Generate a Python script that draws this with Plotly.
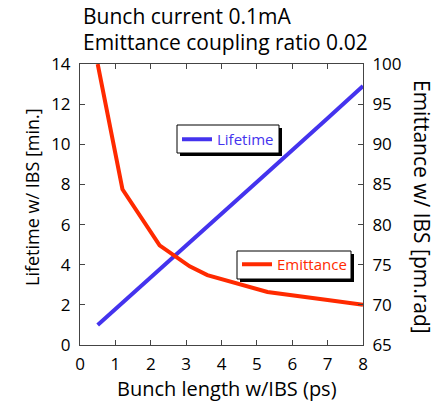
import plotly.graph_objects as go

bunch_length = [0.5, 1.2, 2.25, 3.1, 3.6, 5.3, 7.0, 8.0]
lifetime = [1.0, 2.1, 3.8, 5.1, 5.9, 8.6, 11.3, 12.9]
emittance = [100.0, 84.4, 77.4, 74.8, 73.7, 71.6, 70.6, 70.0]

title_lines = ["Bunch current 0.1mA", "Emittance coupling ratio 0.02"]
x_title = "Bunch length w/IBS (ps)"
y1_title = "Lifetime w/ IBS [min.]"
y2_title = "Emittance w/ IBS [pm.rad]"

FONT = "Open Sans"
BLUE = "#4433EE"
RED = "#FF2A00"
AX = "#444444"

W, H = 438, 402
L, R, T, B = 80, 75, 64, 57
PW, PH = W - L - R, H - T - B


def px_x(x):
    return (x - L) / PW


def px_y(y):
    return (H - B - y) / PH


fig = go.Figure()
fig.add_trace(go.Scatter(x=bunch_length, y=lifetime, mode="lines", name="Lifetime",
                         line=dict(color=BLUE, width=4), legend="legend"))
fig.add_trace(go.Scatter(x=bunch_length, y=emittance, mode="lines", name="Emittance",
                         line=dict(color=RED, width=4), yaxis="y2", legend="legend2"))

# legend frames with drop shadow (pixel boxes)
shapes = []
for (x0, y0, x1, y1) in [(177, 125, 279, 153), (237, 251, 351, 279)]:
    shapes.append(dict(type="rect", xref="paper", yref="paper",
                       x0=px_x(x0 + 3), x1=px_x(x1 + 3), y0=px_y(y1 + 3), y1=px_y(y0 + 3),
                       fillcolor="black", line=dict(width=0), layer="above"))
    shapes.append(dict(type="rect", xref="paper", yref="paper",
                       x0=px_x(x0), x1=px_x(x1), y0=px_y(y1), y1=px_y(y0),
                       fillcolor="white", line=dict(width=1, color="black"), layer="above"))

axis_common = dict(showgrid=False, zeroline=False, showline=True, linecolor=AX, linewidth=1,
                   ticks="inside", ticklen=5, tickcolor=AX, automargin=False,
                   tickfont=dict(family=FONT, size=17, color="black"))

fig.update_layout(
    width=W, height=H,
    margin=dict(l=L, r=R, t=T, b=B, autoexpand=False),
    paper_bgcolor="white", plot_bgcolor="white",
    font=dict(family=FONT, color="black"),
    showlegend=True,
    xaxis=dict(range=[0, 8], dtick=1, mirror="ticks", ticklabelstandoff=4, **axis_common),
    yaxis=dict(range=[0, 14], dtick=2, ticklabelstandoff=5, **axis_common),
    yaxis2=dict(range=[65, 100], dtick=5, overlaying="y", side="right", ticklabelstandoff=5,
                **axis_common),
    legend=dict(x=px_x(177), y=px_y(123), xanchor="left", yanchor="top",
                bgcolor="rgba(0,0,0,0)", borderwidth=0,
                font=dict(family=FONT, size=15, color=BLUE)),
    legend2=dict(x=px_x(237), y=px_y(248), xanchor="left", yanchor="top",
                 bgcolor="rgba(0,0,0,0)", borderwidth=0,
                 font=dict(family=FONT, size=15, color=RED)),
    shapes=shapes,
    annotations=[
        dict(text=title_lines[0], xref="paper", yref="paper", x=px_x(81), y=px_y(16),
             xanchor="left", yanchor="middle", showarrow=False, font=dict(family=FONT, size=21)),
        dict(text=title_lines[1], xref="paper", yref="paper", x=px_x(81), y=px_y(42),
             xanchor="left", yanchor="middle", showarrow=False, font=dict(family=FONT, size=21)),
        dict(text=x_title, xref="paper", yref="paper", x=px_x(227), y=px_y(388),
             xanchor="center", yanchor="middle", showarrow=False, font=dict(family=FONT, size=20)),
        dict(text=y1_title, xref="paper", yref="paper", x=px_x(32), y=px_y(197),
             xanchor="center", yanchor="middle", textangle=-90, showarrow=False,
             font=dict(family=FONT, size=18)),
        dict(text=y2_title, xref="paper", yref="paper", x=px_x(422), y=px_y(207),
             xanchor="center", yanchor="middle", textangle=90, showarrow=False,
             font=dict(family=FONT, size=21)),
    ],
)

fig.write_html("out.html", post_script="document.body.style.margin='0';",
               config={"displayModeBar": False})
